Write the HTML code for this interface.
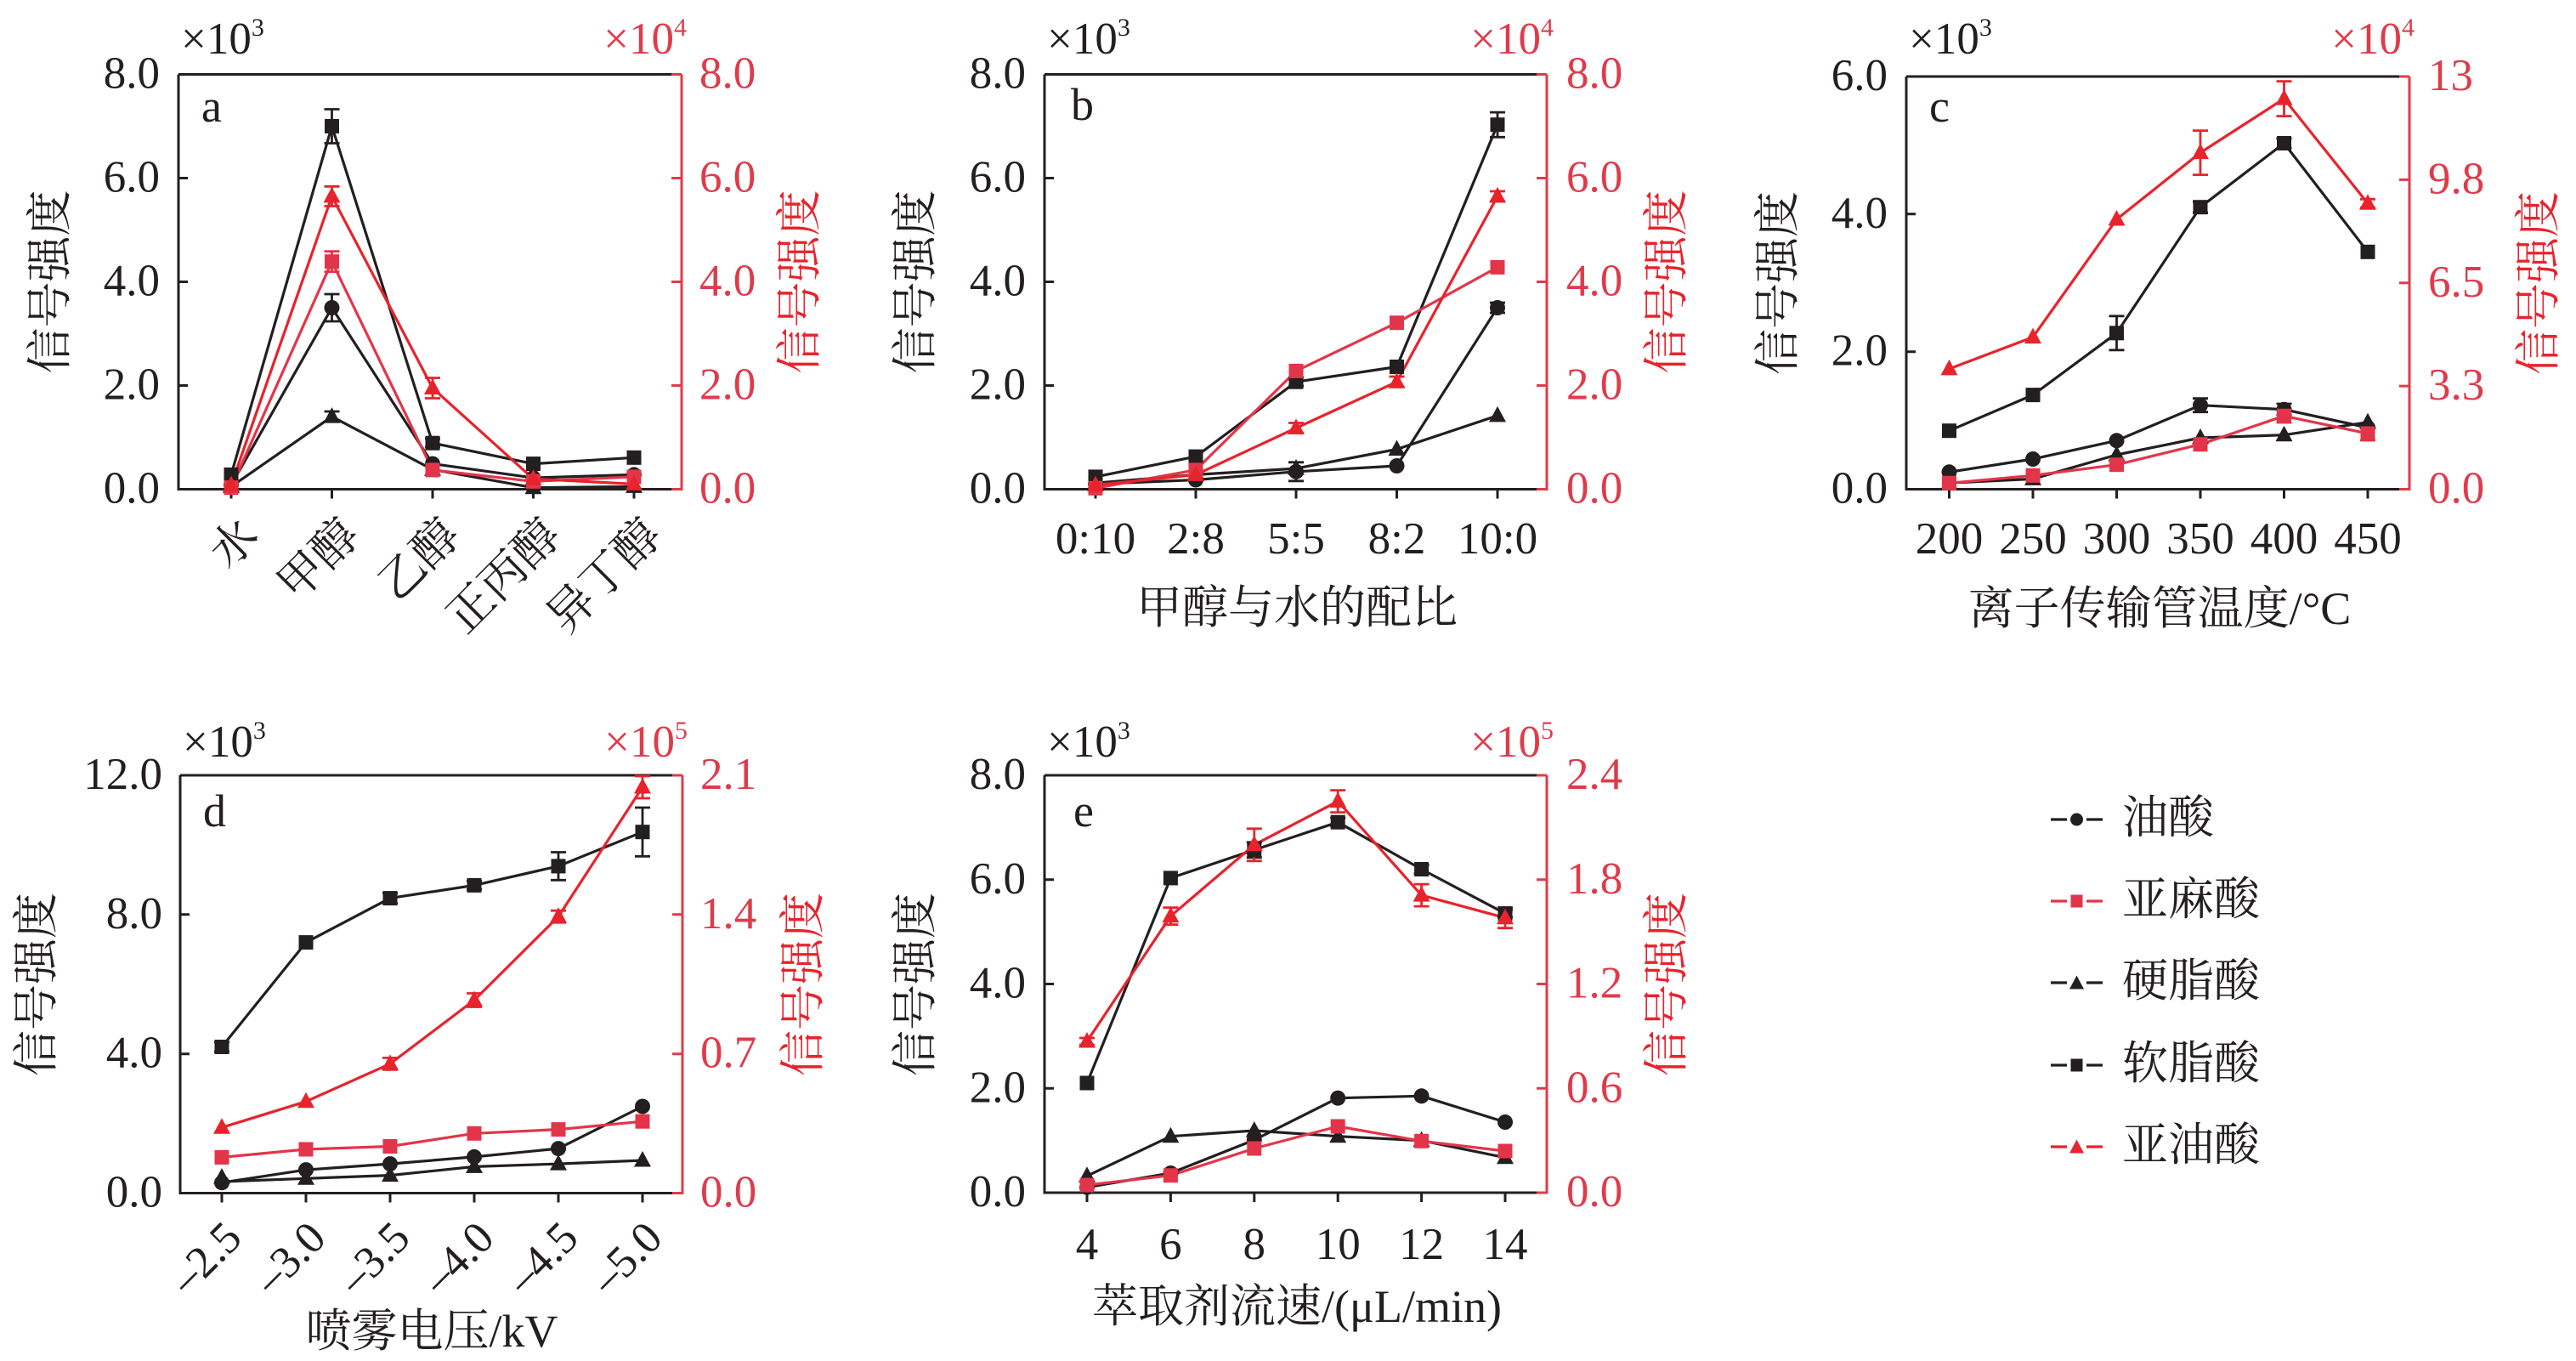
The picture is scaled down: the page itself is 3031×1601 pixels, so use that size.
<!DOCTYPE html>
<html><head><meta charset="utf-8"><style>
html,body{margin:0;padding:0;background:#fff;}
svg{display:block;}
text{font-family:"Liberation Serif","Noto Serif CJK SC",serif;}
</style></head><body>
<svg width="3031" height="1601" viewBox="0 0 3031 1601" xmlns="http://www.w3.org/2000/svg">
<defs>
<circle id="cB" r="9" fill="#231f20"/>
<rect id="sB" x="-8.5" y="-8.5" width="17" height="17" fill="#231f20"/>
<path id="tB" d="M0,-11 L10,7.5 L-10,7.5Z" fill="#231f20"/>
<rect id="sR" x="-8.5" y="-8.5" width="17" height="17" fill="#e3354a"/>
<path id="tR" d="M0,-11 L10,7.5 L-10,7.5Z" fill="#e8232c"/>
</defs>
<rect width="3031" height="1601" fill="#fff"/>

<!-- ================= PANEL A ================= -->
<g>
<g font-size="53" fill="#231f20" text-anchor="end">
<text x="188" y="591.5">0.0</text><text x="188" y="469.5">2.0</text><text x="188" y="347.5">4.0</text><text x="188" y="225.5">6.0</text><text x="188" y="103.5">8.0</text>
</g>
<g font-size="53" fill="#df3b4b">
<text x="823" y="591.5">0.0</text><text x="823" y="469.5">2.0</text><text x="823" y="347.5">4.0</text><text x="823" y="225.5">6.0</text><text x="823" y="103.5">8.0</text>
</g>
<text x="213" y="63" font-size="53" fill="#231f20">×10<tspan font-size="30" dy="-21">3</tspan></text>
<text x="808" y="63" font-size="53" fill="#df3b4b" text-anchor="end">×10<tspan font-size="30" dy="-21">4</tspan></text>
<text x="237" y="143" font-size="54" fill="#231f20">a</text>
<text x="59" y="331.5" font-size="54" fill="#231f20" text-anchor="middle" dominant-baseline="central" transform="rotate(-90 59 331.5)">信号强度</text>
<text x="941" y="331.5" font-size="54" fill="#e8232c" text-anchor="middle" dominant-baseline="central" transform="rotate(-90 941 331.5)">信号强度</text>
<g font-size="54" fill="#231f20" text-anchor="end">
<text x="307" y="633" transform="rotate(-45 307 633)">水</text>
<text x="425.5" y="633" transform="rotate(-45 425.5 633)">甲醇</text>
<text x="544" y="633" transform="rotate(-45 544 633)">乙醇</text>
<text x="662.5" y="633" transform="rotate(-45 662.5 633)">正丙醇</text>
<text x="781" y="633" transform="rotate(-45 781 633)">异丁醇</text>
</g>
<!-- frame -->
<path d="M210 87.5V575.5H802M210 87.5H802" fill="none" stroke="#231f20" stroke-width="3"/>
<path d="M802 87.5V577" fill="none" stroke="#df3b4b" stroke-width="3"/>
<path d="M210 453.5h11M210 331.5h11M210 209.5h11M272 575.5v11M390.5 575.5v11M509 575.5v11M627.5 575.5v11M746 575.5v11" stroke="#231f20" stroke-width="3"/>
<path d="M802 575.5h-12M802 453.5h-12M802 331.5h-12M802 209.5h-12M802 87.5h-12" stroke="#df3b4b" stroke-width="3"/>
<!-- series -->
<g fill="none" stroke-width="3.2" stroke-linejoin="round">
<polyline stroke="#231f20" points="272,558.4 390.5,148.5 509,521.2 627.5,545.6 746,538.3"/>
<polyline stroke="#231f20" points="272,570.6 390.5,362 509,545.6 627.5,562.1 746,558.4"/>
<polyline stroke="#231f20" points="272,572.4 390.5,490.1 509,552.3 627.5,573.7 746,572.4"/>
<polyline stroke="#e3354a" points="272,573.7 390.5,307.7 509,552.9 627.5,566.3 746,560.9"/>
<polyline stroke="#e8232c" points="272,570.6 390.5,230.9 509,456.5 627.5,563.3 746,569.4"/>
</g>
<path d="M390.5 128.5V168.5M381.5 128.5H399.5M381.5 168.5H399.5M390.5 346V378M381.5 346H399.5M381.5 378H399.5M390.5 484V496M381.5 484H399.5M381.5 496H399.5M509 516V526M500 516H518M500 526H518" stroke="#231f20" stroke-width="2.8" fill="none"/>
<path d="M390.5 219.3V242.5M381.5 219.3H399.5M381.5 242.5H399.5M509 444.5V468.5M500 444.5H518M500 468.5H518" stroke="#e8232c" stroke-width="2.8" fill="none"/>
<path d="M390.5 295.7V319.7M381.5 295.7H399.5M381.5 319.7H399.5" stroke="#e3354a" stroke-width="2.8" fill="none"/>
<use href="#sB" x="272" y="558.4"/><use href="#sB" x="390.5" y="148.5"/><use href="#sB" x="509" y="521.2"/><use href="#sB" x="627.5" y="545.6"/><use href="#sB" x="746" y="538.3"/>
<use href="#cB" x="272" y="570.6"/><use href="#cB" x="390.5" y="362"/><use href="#cB" x="509" y="545.6"/><use href="#cB" x="627.5" y="562.1"/><use href="#cB" x="746" y="558.4"/>
<use href="#tB" x="272" y="572.4"/><use href="#tB" x="390.5" y="490.1"/><use href="#tB" x="509" y="552.3"/><use href="#tB" x="627.5" y="573.7"/><use href="#tB" x="746" y="572.4"/>
<use href="#sR" x="272" y="573.7"/><use href="#sR" x="390.5" y="307.7"/><use href="#sR" x="509" y="552.9"/><use href="#sR" x="627.5" y="566.3"/><use href="#sR" x="746" y="560.9"/>
<use href="#tR" x="272" y="570.6"/><use href="#tR" x="390.5" y="230.9"/><use href="#tR" x="509" y="456.5"/><use href="#tR" x="627.5" y="563.3"/><use href="#tR" x="746" y="569.4"/>
</g>

<!-- ================= PANEL B ================= -->
<g>
<g font-size="53" fill="#231f20" text-anchor="end">
<text x="1207" y="591.5">0.0</text><text x="1207" y="469.5">2.0</text><text x="1207" y="347.5">4.0</text><text x="1207" y="225.5">6.0</text><text x="1207" y="103.5">8.0</text>
</g>
<g font-size="53" fill="#df3b4b">
<text x="1843" y="591.5">0.0</text><text x="1843" y="469.5">2.0</text><text x="1843" y="347.5">4.0</text><text x="1843" y="225.5">6.0</text><text x="1843" y="103.5">8.0</text>
</g>
<text x="1232" y="63" font-size="53" fill="#231f20">×10<tspan font-size="30" dy="-21">3</tspan></text>
<text x="1828" y="63" font-size="53" fill="#df3b4b" text-anchor="end">×10<tspan font-size="30" dy="-21">4</tspan></text>
<text x="1260" y="141" font-size="54" fill="#231f20">b</text>
<text x="1077" y="331.5" font-size="54" fill="#231f20" text-anchor="middle" dominant-baseline="central" transform="rotate(-90 1077 331.5)">信号强度</text>
<text x="1961" y="331.5" font-size="54" fill="#e8232c" text-anchor="middle" dominant-baseline="central" transform="rotate(-90 1961 331.5)">信号强度</text>
<g font-size="53" fill="#231f20" text-anchor="middle">
<text x="1289" y="651">0:10</text><text x="1407" y="651">2:8</text><text x="1525" y="651">5:5</text><text x="1643.5" y="651">8:2</text><text x="1762" y="651">10:0</text>
</g>
<text x="1526" y="733" font-size="54" fill="#231f20" text-anchor="middle">甲醇与水的配比</text>
<path d="M1229 87.5V575.5H1820M1229 87.5H1820" fill="none" stroke="#231f20" stroke-width="3"/>
<path d="M1820 87.5V577" fill="none" stroke="#df3b4b" stroke-width="3"/>
<path d="M1229 453.5h11M1229 331.5h11M1229 209.5h11M1289 575.5v11M1407 575.5v11M1525 575.5v11M1643.5 575.5v11M1762 575.5v11" stroke="#231f20" stroke-width="3"/>
<path d="M1820 575.5h-12M1820 453.5h-12M1820 331.5h-12M1820 209.5h-12M1820 87.5h-12" stroke="#df3b4b" stroke-width="3"/>
<g fill="none" stroke-width="3.2" stroke-linejoin="round">
<polyline stroke="#231f20" points="1289,560.9 1407,537.1 1525,449.2 1643.5,431.5 1762,146.7"/>
<polyline stroke="#231f20" points="1289,569.4 1407,564.5 1525,554.8 1643.5,548 1762,362"/>
<polyline stroke="#231f20" points="1289,568.2 1407,558.4 1525,551.1 1643.5,528.5 1762,488.9"/>
<polyline stroke="#e3354a" points="1289,574.3 1407,552.9 1525,436.4 1643.5,379.7 1762,314.4"/>
<polyline stroke="#e8232c" points="1289,570.6 1407,558.4 1525,503.5 1643.5,449.2 1762,230.9"/>
</g>
<path d="M1762 132.1V161.3M1753 132.1H1771M1753 161.3H1771M1525 444V454M1516 444H1534M1516 454H1534M1525 543.8V565.8M1516 543.8H1534M1516 565.8H1534M1762 356V368M1753 356H1771M1753 368H1771" stroke="#231f20" stroke-width="2.8" fill="none"/>
<path d="M1762 225V237M1753 225H1771M1753 237H1771M1643.5 443V455M1634.5 443H1652.5M1634.5 455H1652.5M1525 497.5V509.5M1516 497.5H1534M1516 509.5H1534" stroke="#e8232c" stroke-width="2.8" fill="none"/>
<use href="#sB" x="1289" y="560.9"/><use href="#sB" x="1407" y="537.1"/><use href="#sB" x="1525" y="449.2"/><use href="#sB" x="1643.5" y="431.5"/><use href="#sB" x="1762" y="146.7"/>
<use href="#cB" x="1289" y="569.4"/><use href="#cB" x="1407" y="564.5"/><use href="#cB" x="1525" y="554.8"/><use href="#cB" x="1643.5" y="548"/><use href="#cB" x="1762" y="362"/>
<use href="#tB" x="1289" y="568.2"/><use href="#tB" x="1407" y="558.4"/><use href="#tB" x="1525" y="551.1"/><use href="#tB" x="1643.5" y="528.5"/><use href="#tB" x="1762" y="488.9"/>
<use href="#sR" x="1289" y="574.3"/><use href="#sR" x="1407" y="552.9"/><use href="#sR" x="1525" y="436.4"/><use href="#sR" x="1643.5" y="379.7"/><use href="#sR" x="1762" y="314.4"/>
<use href="#tR" x="1289" y="570.6"/><use href="#tR" x="1407" y="558.4"/><use href="#tR" x="1525" y="503.5"/><use href="#tR" x="1643.5" y="449.2"/><use href="#tR" x="1762" y="230.9"/>
</g>

<!-- ================= PANEL C ================= -->
<g>
<g font-size="53" fill="#231f20" text-anchor="end">
<text x="2221" y="591.5">0.0</text><text x="2221" y="429.7">2.0</text><text x="2221" y="267.8">4.0</text><text x="2221" y="106">6.0</text>
</g>
<g font-size="53" fill="#df3b4b">
<text x="2857" y="591.5">0.0</text><text x="2857" y="470.1">3.3</text><text x="2857" y="348.8">6.5</text><text x="2857" y="227.4">9.8</text><text x="2857" y="106">13</text>
</g>
<text x="2246" y="63" font-size="53" fill="#231f20">×10<tspan font-size="30" dy="-21">3</tspan></text>
<text x="2841" y="63" font-size="53" fill="#df3b4b" text-anchor="end">×10<tspan font-size="30" dy="-21">4</tspan></text>
<text x="2270" y="143" font-size="54" fill="#231f20">c</text>
<text x="2092" y="333" font-size="54" fill="#231f20" text-anchor="middle" dominant-baseline="central" transform="rotate(-90 2092 333)">信号强度</text>
<text x="2987" y="333" font-size="54" fill="#e8232c" text-anchor="middle" dominant-baseline="central" transform="rotate(-90 2987 333)">信号强度</text>
<g font-size="53" fill="#231f20" text-anchor="middle">
<text x="2293.5" y="651">200</text><text x="2392" y="651">250</text><text x="2490.5" y="651">300</text><text x="2589" y="651">350</text><text x="2687.5" y="651">400</text><text x="2786" y="651">450</text>
</g>
<text x="2541" y="734" font-size="54" fill="#231f20" text-anchor="middle">离子传输管温度/°C</text>
<path d="M2243 90V575.5H2835M2243 90H2835" fill="none" stroke="#231f20" stroke-width="3"/>
<path d="M2835 90V577" fill="none" stroke="#df3b4b" stroke-width="3"/>
<path d="M2243 413.7h11M2243 251.8h11M2293.5 575.5v11M2392 575.5v11M2490.5 575.5v11M2589 575.5v11M2687.5 575.5v11M2786 575.5v11" stroke="#231f20" stroke-width="3"/>
<path d="M2835 575.5h-12M2835 454.1h-12M2835 332.8h-12M2835 211.4h-12M2835 90h-12" stroke="#df3b4b" stroke-width="3"/>
<g fill="none" stroke-width="3.2" stroke-linejoin="round">
<polyline stroke="#231f20" points="2293.5,506.7 2392,464.6 2490.5,391.8 2589,243.7 2687.5,168.5 2786,296.3"/>
<polyline stroke="#231f20" points="2293.5,555.3 2392,540 2490.5,518.3 2589,476.7 2687.5,481.7 2786,503"/>
<polyline stroke="#231f20" points="2293.5,568.2 2392,563.4 2490.5,535 2589,515 2687.5,511.7 2786,496.7"/>
<polyline stroke="#e3354a" points="2293.5,568.3 2392,559.3 2490.5,546.7 2589,522.7 2687.5,489.3 2786,510"/>
<polyline stroke="#e8232c" points="2293.5,433.9 2392,396.6 2490.5,258 2589,179.6 2687.5,116.1 2786,239.3"/>
</g>
<path d="M2490.5 371.8V411.8M2481.5 371.8H2499.5M2481.5 411.8H2499.5M2589 237.2V250.2M2580 237.2H2598M2580 250.2H2598M2687.5 162.8V174.2M2678.5 162.8H2696.5M2678.5 174.2H2696.5M2589 468.7V484.7M2580 468.7H2598M2580 484.7H2598M2687.5 475V488M2678.5 475H2696.5M2678.5 488H2696.5" stroke="#231f20" stroke-width="2.8" fill="none"/>
<path d="M2589 153.6V205.6M2580 153.6H2598M2580 205.6H2598M2687.5 95.6V136.6M2678.5 95.6H2696.5M2678.5 136.6H2696.5M2786 234.3V244.3M2777 234.3H2795M2777 244.3H2795" stroke="#e8232c" stroke-width="2.8" fill="none"/>
<path d="M2687.5 481V497M2678.5 481H2696.5M2678.5 497H2696.5M2786 502V518M2777 502H2795M2777 518H2795" stroke="#e3354a" stroke-width="2.8" fill="none"/>
<use href="#sB" x="2293.5" y="506.7"/><use href="#sB" x="2392" y="464.6"/><use href="#sB" x="2490.5" y="391.8"/><use href="#sB" x="2589" y="243.7"/><use href="#sB" x="2687.5" y="168.5"/><use href="#sB" x="2786" y="296.3"/>
<use href="#cB" x="2293.5" y="555.3"/><use href="#cB" x="2392" y="540"/><use href="#cB" x="2490.5" y="518.3"/><use href="#cB" x="2589" y="476.7"/><use href="#cB" x="2687.5" y="481.7"/><use href="#cB" x="2786" y="503"/>
<use href="#tB" x="2293.5" y="568.2"/><use href="#tB" x="2392" y="563.4"/><use href="#tB" x="2490.5" y="535"/><use href="#tB" x="2589" y="515"/><use href="#tB" x="2687.5" y="511.7"/><use href="#tB" x="2786" y="496.7"/>
<use href="#sR" x="2293.5" y="568.3"/><use href="#sR" x="2392" y="559.3"/><use href="#sR" x="2490.5" y="546.7"/><use href="#sR" x="2589" y="522.7"/><use href="#sR" x="2687.5" y="489.3"/><use href="#sR" x="2786" y="510"/>
<use href="#tR" x="2293.5" y="433.9"/><use href="#tR" x="2392" y="396.6"/><use href="#tR" x="2490.5" y="258"/><use href="#tR" x="2589" y="179.6"/><use href="#tR" x="2687.5" y="116.1"/><use href="#tR" x="2786" y="239.3"/>
</g>

<!-- ================= PANEL D ================= -->
<g>
<g font-size="53" fill="#231f20" text-anchor="end">
<text x="191" y="1419.5">0.0</text><text x="191" y="1255.7">4.0</text><text x="191" y="1091.8">8.0</text><text x="191" y="928">12.0</text>
</g>
<g font-size="53" fill="#df3b4b">
<text x="824" y="1419.5">0.0</text><text x="824" y="1255.7">0.7</text><text x="824" y="1091.8">1.4</text><text x="824" y="928">2.1</text>
</g>
<text x="215" y="890" font-size="53" fill="#231f20">×10<tspan font-size="30" dy="-21">3</tspan></text>
<text x="809" y="890" font-size="53" fill="#df3b4b" text-anchor="end">×10<tspan font-size="30" dy="-21">5</tspan></text>
<text x="239" y="972" font-size="54" fill="#231f20">d</text>
<text x="43" y="1158" font-size="54" fill="#231f20" text-anchor="middle" dominant-baseline="central" transform="rotate(-90 43 1158)">信号强度</text>
<text x="945" y="1158" font-size="54" fill="#e8232c" text-anchor="middle" dominant-baseline="central" transform="rotate(-90 945 1158)">信号强度</text>
<g font-size="53" fill="#231f20" text-anchor="end">
<text x="287" y="1459" transform="rotate(-45 287 1459)">–2.5</text>
<text x="386" y="1459" transform="rotate(-45 386 1459)">–3.0</text>
<text x="485" y="1459" transform="rotate(-45 485 1459)">–3.5</text>
<text x="584" y="1459" transform="rotate(-45 584 1459)">–4.0</text>
<text x="683" y="1459" transform="rotate(-45 683 1459)">–4.5</text>
<text x="782" y="1459" transform="rotate(-45 782 1459)">–5.0</text>
</g>
<text x="508" y="1584" font-size="54" fill="#231f20" text-anchor="middle">喷雾电压/kV</text>
<path d="M212 912V1403.5H803M212 912H803" fill="none" stroke="#231f20" stroke-width="3"/>
<path d="M803 912V1405" fill="none" stroke="#df3b4b" stroke-width="3"/>
<path d="M212 1239.7h11M212 1075.8h11M261 1403.5v11M360 1403.5v11M459 1403.5v11M558 1403.5v11M657 1403.5v11M756 1403.5v11" stroke="#231f20" stroke-width="3"/>
<path d="M803 1403.5h-12M803 1239.7h-12M803 1075.8h-12M803 912h-12" stroke="#df3b4b" stroke-width="3"/>
<g fill="none" stroke-width="3.2" stroke-linejoin="round">
<polyline stroke="#231f20" points="261,1231.5 360,1108.6 459,1056.6 558,1041.4 657,1018.9 756,978.7"/>
<polyline stroke="#231f20" points="261,1391.2 360,1376.1 459,1369.1 558,1360.9 657,1351.1 756,1301.5"/>
<polyline stroke="#231f20" points="261,1390 360,1386.3 459,1382.6 558,1372.4 657,1369.1 756,1365"/>
<polyline stroke="#e3354a" points="261,1361.4 360,1352 459,1348.5 558,1333.3 657,1328.6 756,1319.2"/>
<polyline stroke="#e8232c" points="261,1326.3 360,1295.8 459,1251.4 558,1176.5 657,1078.2 756,926"/>
</g>
<path d="M459 1050.6V1062.6M450 1050.6H468M450 1062.6H468M558 1036.4V1046.4M549 1036.4H567M549 1046.4H567M657 1002.5V1035.3M648 1002.5H666M648 1035.3H666M756 950V1007.4M747 950H765M747 1007.4H765M261 1226V1237M252 1226H270M252 1237H270" stroke="#231f20" stroke-width="2.8" fill="none"/>
<path d="M459 1244.4V1258.4M450 1244.4H468M450 1258.4H468M558 1168.5V1184.5M549 1168.5H567M549 1184.5H567M657 1071.2V1085.2M648 1071.2H666M648 1085.2H666M756 913V939M747 913H765M747 939H765" stroke="#e8232c" stroke-width="2.8" fill="none"/>
<use href="#sB" x="261" y="1231.5"/><use href="#sB" x="360" y="1108.6"/><use href="#sB" x="459" y="1056.6"/><use href="#sB" x="558" y="1041.4"/><use href="#sB" x="657" y="1018.9"/><use href="#sB" x="756" y="978.7"/>
<use href="#tB" x="261" y="1385"/><use href="#tB" x="360" y="1386.3"/><use href="#tB" x="459" y="1382.6"/><use href="#tB" x="558" y="1372.4"/><use href="#tB" x="657" y="1369.1"/><use href="#tB" x="756" y="1365"/>
<use href="#cB" x="261" y="1391.2"/><use href="#cB" x="360" y="1376.1"/><use href="#cB" x="459" y="1369.1"/><use href="#cB" x="558" y="1360.9"/><use href="#cB" x="657" y="1351.1"/><use href="#cB" x="756" y="1301.5"/>
<use href="#sR" x="261" y="1361.4"/><use href="#sR" x="360" y="1352"/><use href="#sR" x="459" y="1348.5"/><use href="#sR" x="558" y="1333.3"/><use href="#sR" x="657" y="1328.6"/><use href="#sR" x="756" y="1319.2"/>
<use href="#tR" x="261" y="1326.3"/><use href="#tR" x="360" y="1295.8"/><use href="#tR" x="459" y="1251.4"/><use href="#tR" x="558" y="1176.5"/><use href="#tR" x="657" y="1078.2"/><use href="#tR" x="756" y="926"/>
</g>

<!-- ================= PANEL E ================= -->
<g>
<g font-size="53" fill="#231f20" text-anchor="end">
<text x="1207" y="1419">0.0</text><text x="1207" y="1296.3">2.0</text><text x="1207" y="1173.5">4.0</text><text x="1207" y="1050.8">6.0</text><text x="1207" y="928">8.0</text>
</g>
<g font-size="53" fill="#df3b4b">
<text x="1843" y="1419">0.0</text><text x="1843" y="1296.3">0.6</text><text x="1843" y="1173.5">1.2</text><text x="1843" y="1050.8">1.8</text><text x="1843" y="928">2.4</text>
</g>
<text x="1232" y="890" font-size="53" fill="#231f20">×10<tspan font-size="30" dy="-21">3</tspan></text>
<text x="1828" y="890" font-size="53" fill="#df3b4b" text-anchor="end">×10<tspan font-size="30" dy="-21">5</tspan></text>
<text x="1263" y="972" font-size="54" fill="#231f20">e</text>
<text x="1077" y="1158" font-size="54" fill="#231f20" text-anchor="middle" dominant-baseline="central" transform="rotate(-90 1077 1158)">信号强度</text>
<text x="1961" y="1158" font-size="54" fill="#e8232c" text-anchor="middle" dominant-baseline="central" transform="rotate(-90 1961 1158)">信号强度</text>
<g font-size="53" fill="#231f20" text-anchor="middle">
<text x="1279" y="1481">4</text><text x="1377.4" y="1481">6</text><text x="1475.8" y="1481">8</text><text x="1574.2" y="1481">10</text><text x="1672.6" y="1481">12</text><text x="1771" y="1481">14</text>
</g>
<text x="1526" y="1555" font-size="54" fill="#231f20" text-anchor="middle">萃取剂流速/(μL/min)</text>
<path d="M1229 912V1403H1820M1229 912H1820" fill="none" stroke="#231f20" stroke-width="3"/>
<path d="M1820 912V1404.5" fill="none" stroke="#df3b4b" stroke-width="3"/>
<path d="M1229 1280.25h11M1229 1157.5h11M1229 1034.75h11M1279 1403v11M1377.4 1403v11M1475.8 1403v11M1574.2 1403v11M1672.6 1403v11M1771 1403v11" stroke="#231f20" stroke-width="3"/>
<path d="M1820 1403h-12M1820 1280.25h-12M1820 1157.5h-12M1820 1034.75h-12M1820 912h-12" stroke="#df3b4b" stroke-width="3"/>
<g fill="none" stroke-width="3.2" stroke-linejoin="round">
<polyline stroke="#231f20" points="1279,1274 1377.4,1032.9 1475.8,999.8 1574.2,967.2 1672.6,1022.5 1771,1074.6"/>
<polyline stroke="#231f20" points="1279,1396.7 1377.4,1380 1475.8,1341 1574.2,1291.7 1672.6,1289.3 1771,1320"/>
<polyline stroke="#231f20" points="1279,1383.3 1377.4,1336.7 1475.8,1330 1574.2,1336.7 1672.6,1341.7 1771,1361.7"/>
<polyline stroke="#e3354a" points="1279,1394 1377.4,1382.7 1475.8,1351 1574.2,1325 1672.6,1342.3 1771,1354"/>
<polyline stroke="#e8232c" points="1279,1225 1377.4,1077.7 1475.8,993.8 1574.2,942.6 1672.6,1053.1 1771,1079.7"/>
</g>
<path d="M1475.8 990.8V1008.8M1466.8 990.8H1484.8M1466.8 1008.8H1484.8M1574.2 962V972M1565.2 962H1583.2M1565.2 972H1583.2M1672.6 1017.5V1027.5M1663.6 1017.5H1681.6M1663.6 1027.5H1681.6M1771 1070V1079M1762 1070H1780M1762 1079H1780" stroke="#231f20" stroke-width="2.8" fill="none"/>
<path d="M1279 1221V1229M1270 1221H1288M1270 1229H1288M1377.4 1067.7V1087.7M1368.4 1067.7H1386.4M1368.4 1087.7H1386.4M1475.8 974.8V1012.8M1466.8 974.8H1484.8M1466.8 1012.8H1484.8M1574.2 929.6V955.6M1565.2 929.6H1583.2M1565.2 955.6H1583.2M1672.6 1040.1V1066.1M1663.6 1040.1H1681.6M1663.6 1066.1H1681.6M1771 1067.7V1091.7M1762 1067.7H1780M1762 1091.7H1780" stroke="#e8232c" stroke-width="2.8" fill="none"/>
<use href="#sB" x="1279" y="1274"/><use href="#sB" x="1377.4" y="1032.9"/><use href="#sB" x="1475.8" y="999.8"/><use href="#sB" x="1574.2" y="967.2"/><use href="#sB" x="1672.6" y="1022.5"/><use href="#sB" x="1771" y="1074.6"/>
<use href="#cB" x="1279" y="1396.7"/><use href="#cB" x="1377.4" y="1380"/><use href="#cB" x="1475.8" y="1341"/><use href="#cB" x="1574.2" y="1291.7"/><use href="#cB" x="1672.6" y="1289.3"/><use href="#cB" x="1771" y="1320"/>
<use href="#tB" x="1279" y="1383.3"/><use href="#tB" x="1377.4" y="1336.7"/><use href="#tB" x="1475.8" y="1330"/><use href="#tB" x="1574.2" y="1336.7"/><use href="#tB" x="1672.6" y="1341.7"/><use href="#tB" x="1771" y="1361.7"/>
<use href="#sR" x="1279" y="1394"/><use href="#sR" x="1377.4" y="1382.7"/><use href="#sR" x="1475.8" y="1351"/><use href="#sR" x="1574.2" y="1325"/><use href="#sR" x="1672.6" y="1342.3"/><use href="#sR" x="1771" y="1354"/>
<use href="#tR" x="1279" y="1225"/><use href="#tR" x="1377.4" y="1077.7"/><use href="#tR" x="1475.8" y="993.8"/><use href="#tR" x="1574.2" y="942.6"/><use href="#tR" x="1672.6" y="1053.1"/><use href="#tR" x="1771" y="1079.7"/>
</g>

<!-- ================= LEGEND ================= -->
<g stroke-width="3.2">
<path d="M2413 964H2432M2455 964H2474" stroke="#231f20"/>
<circle cx="2443.5" cy="964" r="7.5" fill="#231f20"/>
<path d="M2413 1060H2432M2455 1060H2474" stroke="#e3354a"/>
<rect x="2436.5" y="1052.5" width="14" height="15" fill="#e3354a"/>
<path d="M2413 1156H2432M2455 1156H2474" stroke="#231f20"/>
<path d="M2443.5 1147.5L2452 1163.5L2435 1163.5Z" fill="#231f20"/>
<path d="M2413 1253H2432M2455 1253H2474" stroke="#231f20"/>
<rect x="2436.5" y="1245.5" width="14" height="15" fill="#231f20"/>
<path d="M2413 1349H2432M2455 1349H2474" stroke="#e8232c"/>
<path d="M2443.5 1340.5L2452 1356.5L2435 1356.5Z" fill="#e8232c"/>
</g>
<g font-size="54" fill="#231f20" dominant-baseline="central">
<text x="2497" y="962">油酸</text>
<text x="2497" y="1058">亚麻酸</text>
<text x="2497" y="1154">硬脂酸</text>
<text x="2497" y="1251">软脂酸</text>
<text x="2497" y="1347">亚油酸</text>
</g>
</svg>
</body></html>
